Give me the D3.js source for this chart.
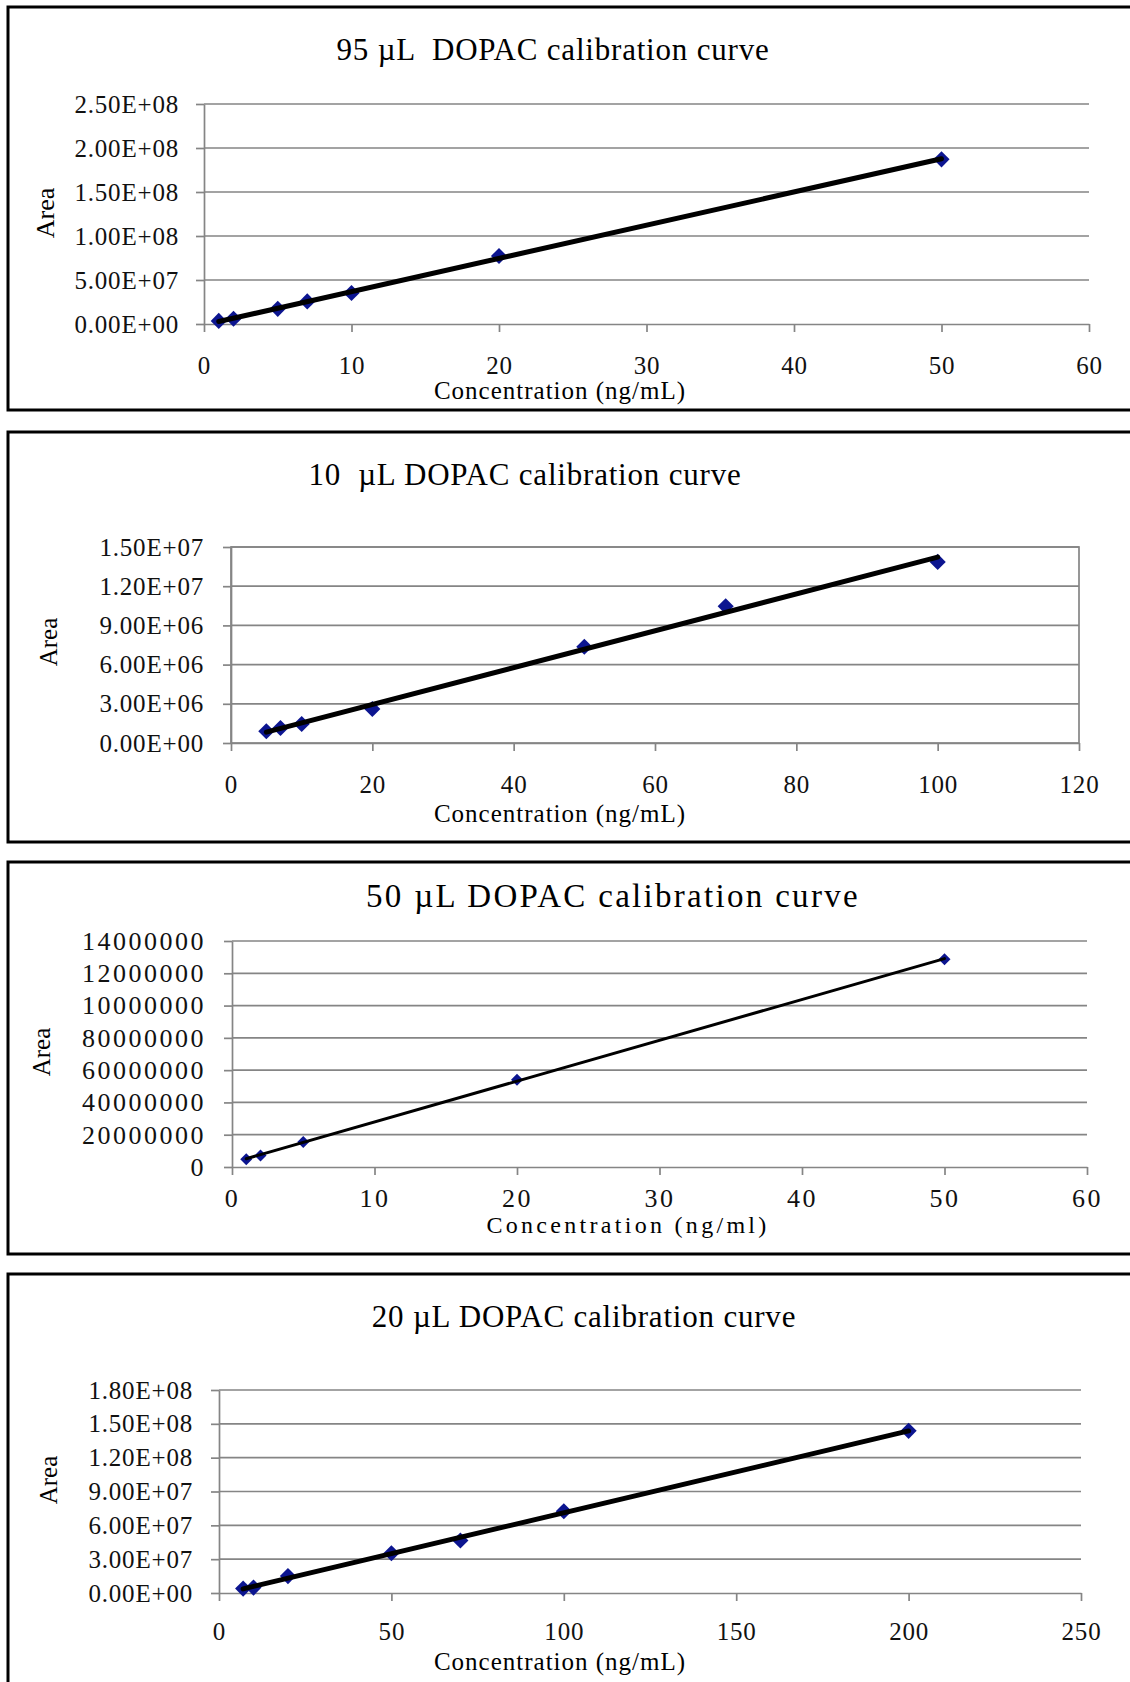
<!DOCTYPE html>
<html>
<head>
<meta charset="utf-8">
<script src="https://cdn.jsdelivr.net/npm/d3@7"></script>
<style>
  body { margin: 0; background: #fff; }
  svg { display: block; }
  .ttl { white-space: pre; }
</style>
</head>
<body>
<svg width="1130" height="1682"></svg>
<script>
// ---- data ----
var conc95 = [1, 2, 5, 7, 10, 20, 50]
var area95 = [3.5e6, 6.0e6, 1.72e7, 2.57e7, 3.52e7, 7.73e7, 1.871e8]
var xTicks95 = [0, 10, 20, 30, 40, 50, 60]
var yTicks95 = [0, 5e7, 1e8, 1.5e8, 2e8, 2.5e8]
var yLabels95 = ['0.00E+00', '5.00E+07', '1.00E+08', '1.50E+08', '2.00E+08', '2.50E+08']

var conc10 = [5, 7, 10, 20, 50, 70, 100]
var area10 = [0.9e6, 1.15e6, 1.45e6, 2.6e6, 7.37e6, 1.047e7, 1.386e7]
var xTicks10 = [0, 20, 40, 60, 80, 100, 120]
var yTicks10 = [0, 3e6, 6e6, 9e6, 1.2e7, 1.5e7]
var yLabels10 = ['0.00E+00', '3.00E+06', '6.00E+06', '9.00E+06', '1.20E+07', '1.50E+07']

var conc50 = [1, 2, 5, 20, 50]
var area50 = [0.48e6, 0.72e6, 1.55e6, 5.41e6, 1.287e7]
var xTicks50 = [0, 10, 20, 30, 40, 50, 60]
var yTicks50 = [0, 2e6, 4e6, 6e6, 8e6, 1e7, 1.2e7, 1.4e7]
var yLabels50 = ['0', '20000000', '40000000', '60000000', '80000000', '10000000', '12000000', '14000000']

var conc20 = [7, 10, 20, 50, 70, 100, 200]
var area20 = [3.9e6, 4.8e6, 1.5e7, 3.53e7, 4.65e7, 7.25e7, 1.438e8]
var xTicks20 = [0, 50, 100, 150, 200, 250]
var yTicks20 = [0, 3e7, 6e7, 9e7, 1.2e8, 1.5e8, 1.8e8]
var yLabels20 = ['0.00E+00', '3.00E+07', '6.00E+07', '9.00E+07', '1.20E+08', '1.50E+08', '1.80E+08']

var FONT = "'Liberation Serif','Times New Roman',Times,serif"
var GRID = '#858585'
var MARK = '#0c1590'

// layout of each panel (frame, plot box, text spots)
var charts = [
  { title: '95 \u00b5L  DOPAC calibration curve', xTitle: 'Concentration (ng/mL)',
    conc: conc95, area: area95, xTicks: xTicks95, yTicks: yTicks95, yLabels: yLabels95,
    frame: [7, 410], plot: {l: 204, r: 1089, t: 104, b: 324},
    titleX: 553, titleY: 60, titleSize: 31, titleLs: 0.8,
    tickSize: 25, tickLs: 0.8, yGap: 25, xLabY: 50,
    xTitleX: 560, xTitleY: 399, xTitleSize: 25, xTitleLs: 1,
    areaX: 45, areaY: 213, areaSize: 26,
    lineW: 5, mark: 130, border: false },
  { title: '10  \u00b5L DOPAC calibration curve', xTitle: 'Concentration (ng/mL)',
    conc: conc10, area: area10, xTicks: xTicks10, yTicks: yTicks10, yLabels: yLabels10,
    frame: [432, 842], plot: {l: 231, r: 1079, t: 547, b: 743},
    titleX: 525, titleY: 485, titleSize: 31, titleLs: 0.8,
    tickSize: 25, tickLs: 0.8, yGap: 27, xLabY: 50,
    xTitleX: 560, xTitleY: 822, xTitleSize: 25, xTitleLs: 1,
    areaX: 48, areaY: 642, areaSize: 25,
    lineW: 5, mark: 130, border: true },
  { title: '50 \u00b5L DOPAC calibration curve', xTitle: 'Concentration (ng/ml)',
    conc: conc50, area: area50, xTicks: xTicks50, yTicks: yTicks50, yLabels: yLabels50,
    frame: [862, 1254], plot: {l: 232, r: 1087, t: 941, b: 1167},
    titleX: 613, titleY: 907, titleSize: 33, titleLs: 2.3,
    tickSize: 26, tickLs: 2.5, yGap: 26, xLabY: 40,
    xTitleX: 628, xTitleY: 1233, xTitleSize: 24, xTitleLs: 3.3,
    areaX: 41, areaY: 1052, areaSize: 25,
    lineW: 3, mark: 72, border: false },
  { title: '20 \u00b5L DOPAC calibration curve', xTitle: 'Concentration (ng/mL)',
    conc: conc20, area: area20, xTicks: xTicks20, yTicks: yTicks20, yLabels: yLabels20,
    frame: [1274, 1760], plot: {l: 219, r: 1081, t: 1390, b: 1593},
    titleX: 584, titleY: 1327, titleSize: 31, titleLs: 0.8,
    tickSize: 25, tickLs: 0.8, yGap: 26, xLabY: 47,
    xTitleX: 560, xTitleY: 1670, xTitleSize: 25, xTitleLs: 1,
    areaX: 48, areaY: 1480, areaSize: 25,
    lineW: 5, mark: 130, border: false }
]

var svg = d3.select('svg')

// least squares fit, like the Excel linear trendline
function fit(xs, ys) {
  var mx = d3.mean(xs), my = d3.mean(ys)
  var sxy = d3.sum(xs, function(x, i) { return (x - mx) * (ys[i] - my) })
  var sxx = d3.sum(xs, function(x) { return (x - mx) * (x - mx) })
  var k = sxy / sxx
  return function(x) { return my + k * (x - mx) }
}

function drawChart(c) {
  var g = svg.append('g')
  var p = c.plot

  // outer frame (runs off the right edge in the picture)
  g.append('rect')
    .attr('x', 8).attr('y', c.frame[0])
    .attr('width', 1200).attr('height', c.frame[1] - c.frame[0])
    .attr('fill', 'none').attr('stroke', '#000').attr('stroke-width', 3)

  var x = d3.scaleLinear().domain(d3.extent(c.xTicks)).range([p.l, p.r])
  var y = d3.scaleLinear().domain(d3.extent(c.yTicks)).range([p.b, p.t])

  // gridlines
  g.selectAll('.grid')
    .data(c.yTicks.slice(1))
    .enter().append('line')
      .attr('x1', p.l).attr('x2', p.r)
      .attr('y1', function(d) { return y(d) }).attr('y2', function(d) { return y(d) })
      .attr('stroke', GRID).attr('stroke-width', 1.7)

  if (c.border) {
    g.append('rect')
      .attr('x', p.l).attr('y', p.t).attr('width', p.r - p.l).attr('height', p.b - p.t)
      .attr('fill', 'none').attr('stroke', GRID).attr('stroke-width', 1.7)
  }

  // y axis
  var ya = g.append('g')
    .attr('transform', 'translate(' + p.l + ',0)')
    .call(d3.axisLeft(y)
      .tickValues(c.yTicks)
      .tickFormat(function(d, i) { return c.yLabels[i] })
      .tickSizeInner(8).tickSizeOuter(0).tickPadding(c.yGap - 8))
  // x axis
  var xa = g.append('g')
    .attr('transform', 'translate(0,' + p.b + ')')
    .call(d3.axisBottom(x)
      .tickValues(c.xTicks)
      .tickFormat(d3.format('d'))
      .tickSizeInner(8).tickSizeOuter(0))
  xa.selectAll('text').attr('y', c.xLabY).attr('dy', 0)

  ;[ya, xa].forEach(function(a) {
    a.select('.domain').attr('stroke', GRID).attr('stroke-width', 1.7)
    a.selectAll('.tick line').attr('stroke', GRID).attr('stroke-width', 1.7)
    a.selectAll('text')
      .attr('fill', '#111')
      .style('font-family', FONT)
      .style('font-size', c.tickSize + 'px')
      .style('letter-spacing', c.tickLs + 'px')
  })

  // markers
  var sym = d3.symbol(d3.symbolSquare, c.mark)
  g.selectAll('.pt')
    .data(c.conc)
    .enter().append('path')
      .attr('d', sym)
      .attr('transform', function(d, i) {
        return 'translate(' + x(d) + ',' + y(c.area[i]) + ') rotate(45)'
      })
      .attr('fill', MARK)

  // trendline over the data range
  var f = fit(c.conc, c.area)
  var ext = d3.extent(c.conc)
  g.append('line')
    .attr('x1', x(ext[0])).attr('y1', y(f(ext[0])))
    .attr('x2', x(ext[1])).attr('y2', y(f(ext[1])))
    .attr('stroke', '#000').attr('stroke-width', c.lineW)
    .attr('stroke-linecap', 'round')

  // texts
  g.append('text')
    .attr('class', 'ttl')
    .attr('x', c.titleX).attr('y', c.titleY)
    .attr('text-anchor', 'middle')
    .style('font-family', FONT).style('font-size', c.titleSize + 'px')
    .style('letter-spacing', c.titleLs + 'px')
    .text(c.title)

  g.append('text')
    .attr('x', c.xTitleX).attr('y', c.xTitleY)
    .attr('text-anchor', 'middle')
    .style('font-family', FONT).style('font-size', c.xTitleSize + 'px')
    .style('letter-spacing', c.xTitleLs + 'px')
    .text(c.xTitle)

  g.append('text')
    .attr('transform', 'translate(' + c.areaX + ',' + c.areaY + ') rotate(-90)')
    .attr('text-anchor', 'middle').attr('dy', '0.35em')
    .style('font-family', FONT).style('font-size', c.areaSize + 'px')
    .text('Area')
}

charts.forEach(drawChart)
</script>
</body>
</html>
